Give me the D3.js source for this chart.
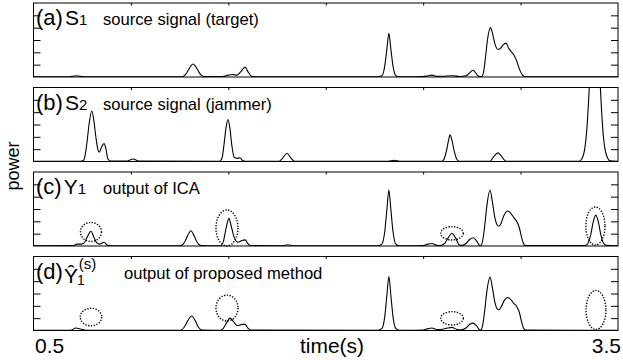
<!DOCTYPE html>
<html>
<head>
<meta charset="utf-8">
<script src="https://cdn.jsdelivr.net/npm/d3@7"></script>
<style>
  html, body { margin: 0; padding: 0; background: #fff; }
  svg { display: block; }
  text { font-family: "Liberation Sans", Arial, Helvetica, sans-serif; fill: #000; }
</style>
</head>
<body>
<svg id="chart" width="623" height="360"></svg>
<script>
// ---------------- data ----------------
const timeDomain = [0.5, 3.5];
const timeTicks = [1.0, 1.5, 2.0, 2.5, 3.0];
const powerTicks = [1, 2, 3, 4, 5];
const xTickLabels = ["0.5", "3.5"];
const xAxisTitle = "time(s)";
const yAxisTitle = "power";

const panelTags = ["(a)", "(b)", "(c)", "(d)"];
const panelDescriptions = ["source signal (target)", "source signal (jammer)", "output of ICA", "output of proposed method"];

// (a) S1 source signal (target)  [time, power]
const sigA = [[0.5,0.02],[0.68,0.02],[0.72,0.1],[0.76,0.02],[1.24,0.02],
  [1.263,0.02],[1.283,0.25],[1.298,0.65],[1.309,0.92],[1.319,1.05],[1.329,0.92],[1.340,0.65],[1.355,0.25],[1.375,0.03],
  [1.47,0.03],[1.50,0.15],[1.52,0.2],[1.545,0.15],[1.565,0.45],[1.586,0.8],[1.602,0.4],[1.62,0.05],[1.65,0.02],
  [2.26,0.02],[2.288,0.1],[2.303,0.9],[2.314,2.3],[2.324,3.55],[2.334,2.3],[2.345,0.9],[2.36,0.1],[2.376,0.02],
  [2.50,0.03],[2.525,0.1],[2.545,0.15],[2.57,0.05],[2.60,0.06],[2.648,0.1],[2.69,0.04],[2.72,0.1],[2.756,0.55],[2.785,0.05],
  [2.80,0.02],[2.81,0.4],[2.82,1.6],[2.83,3.0],[2.845,4.0],[2.855,3.6],[2.868,2.7],[2.882,2.25],[2.895,2.3],[2.91,2.6],
  [2.925,2.75],[2.94,2.3],[2.955,2.0],[2.965,1.8],[2.98,1.3],[2.995,0.6],[3.01,0.15],[3.025,0.02],[3.5,0.02]];

// (b) S2 source signal (jammer)
const sigB = [[0.5,0.02],[0.74,0.02],[0.754,0.05],[0.765,0.5],[0.775,1.6],[0.785,3.0],[0.799,4.1],[0.81,3.3],[0.82,2.0],
  [0.83,1.0],[0.837,0.75],[0.85,1.2],[0.862,1.45],[0.872,1.0],[0.882,0.2],[0.895,0.03],
  [0.98,0.03],[1.011,0.2],[1.04,0.03],
  [1.455,0.02],[1.468,0.3],[1.478,1.4],[1.488,2.7],[1.498,3.4],[1.508,2.7],[1.518,1.3],[1.53,0.35],[1.545,0.25],[1.56,0.3],[1.575,0.05],[1.59,0.02],
  [1.76,0.02],[1.78,0.3],[1.801,0.67],[1.82,0.3],[1.84,0.02],
  [2.32,0.02],[2.35,0.1],[2.38,0.02],
  [2.597,0.02],[2.61,0.3],[2.62,0.9],[2.63,1.7],[2.638,2.16],[2.648,1.7],[2.66,0.8],[2.672,0.2],[2.685,0.02],
  [2.843,0.02],[2.86,0.35],[2.884,0.7],[2.905,0.35],[2.925,0.02],
  [3.30,0.02],[3.314,0.2],[3.330,1.1],[3.340,2.6],[3.350,5.2],[3.360,8.5],[3.371,11.4],[3.381,12.6],[3.391,11.4],
  [3.402,8.5],[3.412,5.2],[3.422,2.6],[3.432,1.1],[3.448,0.25],[3.46,0.05],[3.5,0.02]];

// (c) Y1 output of ICA
const sigC = [[0.5,0.02],[0.70,0.03],[0.725,0.15],[0.745,0.15],[0.76,0.25],[0.775,0.7],[0.795,1.2],[0.81,0.7],[0.825,0.25],
  [0.84,0.15],[0.862,0.3],[0.88,0.05],[0.9,0.02],
  [1.255,0.02],[1.275,0.3],[1.29,0.8],[1.308,1.24],[1.325,0.8],[1.34,0.3],[1.36,0.03],
  [1.46,0.02],[1.475,0.4],[1.488,1.4],[1.503,2.24],[1.515,1.6],[1.53,0.7],[1.55,0.3],[1.57,0.45],[1.586,0.5],[1.60,0.2],[1.615,0.03],
  [1.78,0.02],[1.806,0.1],[1.83,0.02],
  [2.268,0.02],[2.288,0.15],[2.303,1.2],[2.314,3.0],[2.324,4.54],[2.334,3.0],[2.345,1.2],[2.36,0.15],[2.376,0.02],
  [2.50,0.03],[2.525,0.15],[2.545,0.2],[2.57,0.05],[2.585,0.03],[2.61,0.2],[2.63,0.7],[2.648,1.03],[2.665,0.7],[2.685,0.1],
  [2.70,0.05],[2.72,0.2],[2.74,0.55],[2.756,0.67],[2.775,0.4],[2.79,0.05],
  [2.795,0.03],[2.805,0.4],[2.815,1.5],[2.828,3.4],[2.843,4.54],[2.855,3.6],[2.868,2.3],[2.88,1.7],[2.889,1.6],[2.90,1.85],
  [2.915,2.5],[2.934,2.84],[2.95,2.65],[2.965,2.3],[2.98,2.0],[2.995,1.4],[3.005,0.7],[3.015,0.2],[3.025,0.03],
  [3.33,0.03],[3.345,0.2],[3.36,0.9],[3.372,1.9],[3.386,2.5],[3.40,1.9],[3.412,0.9],[3.425,0.25],[3.44,0.05],[3.5,0.02]];

// (d) Y1^(s) output of proposed method
const sigD = [[0.5,0.02],[0.69,0.02],[0.718,0.2],[0.745,0.1],[0.77,0.02],
  [1.255,0.02],[1.275,0.3],[1.292,0.8],[1.312,1.18],[1.33,0.8],[1.345,0.3],[1.365,0.03],
  [1.46,0.02],[1.475,0.2],[1.49,0.6],[1.509,1.0],[1.525,0.75],[1.54,0.45],[1.55,0.4],[1.57,0.5],[1.586,0.5],[1.60,0.2],[1.615,0.03],
  [2.268,0.02],[2.288,0.15],[2.303,1.15],[2.314,2.9],[2.324,4.38],[2.334,2.9],[2.345,1.15],[2.36,0.15],[2.376,0.02],
  [2.50,0.03],[2.525,0.15],[2.545,0.2],[2.57,0.08],[2.60,0.1],[2.625,0.2],[2.648,0.25],[2.67,0.1],[2.695,0.05],
  [2.72,0.2],[2.74,0.5],[2.756,0.6],[2.775,0.35],[2.79,0.05],
  [2.795,0.03],[2.805,0.4],[2.815,1.5],[2.828,3.3],[2.843,4.33],[2.855,3.5],[2.868,2.3],[2.88,1.75],[2.889,1.68],[2.90,1.9],
  [2.915,2.4],[2.934,2.68],[2.95,2.5],[2.965,2.2],[2.98,1.95],[2.995,1.4],[3.005,0.7],[3.015,0.2],[3.025,0.03],[3.5,0.02]];

// dotted ellipse annotations: [centre time, centre power, radius (time), radius (power)]
const ringsC = [[0.795,1.14,0.054,0.77],[1.493,1.46,0.0565,1.46],[2.648,1.03,0.058,0.54],[3.384,1.62,0.049,1.54]];
const ringsD = [[0.795,1.09,0.055,0.71],[1.493,1.82,0.0565,1.05],[2.648,0.99,0.058,0.54],[3.387,1.66,0.051,1.58]];

const signals = [sigA, sigB, sigC, sigD];
const rings = [[], [], ringsC, ringsD];

// ---------------- layout ----------------
const svg = d3.select("#chart");
const left = 33.5, right = 618;
const panelTop0 = 3, panelStep = 84.5, panelH = 74;
const x = d3.scaleLinear().domain(timeDomain).range([left, right]);

const line = d3.line().curve(d3.curveMonotoneX);

signals.forEach((sig, i) => {
  const top = panelTop0 + i * panelStep;
  const bottom = top + panelH;
  const y = d3.scaleLinear().domain([0, 6]).range([bottom, top]);
  const g = svg.append("g");

  const clipId = "clip" + i;
  svg.append("clipPath").attr("id", clipId)
    .append("rect").attr("x", left).attr("y", top).attr("width", right - left).attr("height", panelH);

  // signal
  g.append("path")
    .attr("clip-path", `url(#${clipId})`)
    .attr("d", line(sig.map(d => [x(d[0]), y(d[1])])))
    .attr("fill", "none").attr("stroke", "#000").attr("stroke-width", 1.1);

  // dotted rings
  g.selectAll("ellipse.ring").data(rings[i]).join("ellipse")
    .attr("class", "ring")
    .attr("cx", d => x(d[0])).attr("cy", d => y(d[1]))
    .attr("rx", d => x(timeDomain[0] + d[2]) - x(timeDomain[0]))
    .attr("ry", d => y(0) - y(d[3]))
    .attr("fill", "none").attr("stroke", "#000").attr("stroke-width", 1.4)
    .attr("stroke-dasharray", "1.3 1.5");

  // frame
  g.append("rect").attr("x", left).attr("y", top).attr("width", right - left).attr("height", panelH)
    .attr("fill", "none").attr("stroke", "#000").attr("stroke-width", 1);

  // inner ticks, left and right
  const axL = d3.axisLeft(y).tickValues(powerTicks).tickSizeInner(-7).tickSizeOuter(0).tickFormat("");
  const axR = d3.axisRight(y).tickValues(powerTicks).tickSizeInner(-7).tickSizeOuter(0).tickFormat("");
  const axT = d3.axisTop(x).tickValues(timeTicks).tickSizeInner(-2.5).tickSizeOuter(0).tickFormat("");
  [[axL, `translate(${left},0)`], [axR, `translate(${right},0)`], [axT, `translate(0,${top})`]].forEach(([ax, tr]) => {
    const a = g.append("g").attr("transform", tr).call(ax);
    a.select(".domain").remove();
    a.selectAll("line").attr("stroke", "#000");
  });

  // panel label (single text element with tspans)
  const lab = g.append("text").attr("x", 36).attr("y", top + 22);
  lab.append("tspan").attr("font-size", 22).text(panelTags[i]);
  if (i === 0 || i === 1) {
    lab.append("tspan").attr("font-size", 21).attr("dx", 2).text("S");
    lab.append("tspan").attr("font-size", 15).text(i === 0 ? "1" : "2");
  } else if (i === 2) {
    lab.append("tspan").attr("font-size", 21).attr("dx", 2).text("Y");
    lab.append("tspan").attr("font-size", 15).text("1");
  } else {
    lab.append("tspan").attr("font-size", 21).attr("dx", 1).attr("dy", 4).text("\u0176");
    lab.append("tspan").attr("font-size", 14).attr("dx", -1).attr("dy", 2).text("1");
    lab.append("tspan").attr("font-size", 15).attr("dx", -6).attr("dy", -16).text("(s)");
  }
  g.append("text").attr("x", i === 3 ? 124 : 103).attr("y", top + 22)
    .attr("font-size", 16.6).text(panelDescriptions[i]);
});

// axis titles & end labels
const bottomY = 353;
svg.append("text").attr("x", 35).attr("y", bottomY).attr("font-size", 21).text(xTickLabels[0]);
svg.append("text").attr("x", 621).attr("y", bottomY).attr("font-size", 21).attr("text-anchor", "end").text(xTickLabels[1]);
svg.append("text").attr("x", 332).attr("y", bottomY).attr("font-size", 21).attr("text-anchor", "middle").text(xAxisTitle);
svg.append("text").attr("transform", "translate(19,166) rotate(-90)").attr("font-size", 18)
  .attr("text-anchor", "middle").text(yAxisTitle);
</script>
</body>
</html>
